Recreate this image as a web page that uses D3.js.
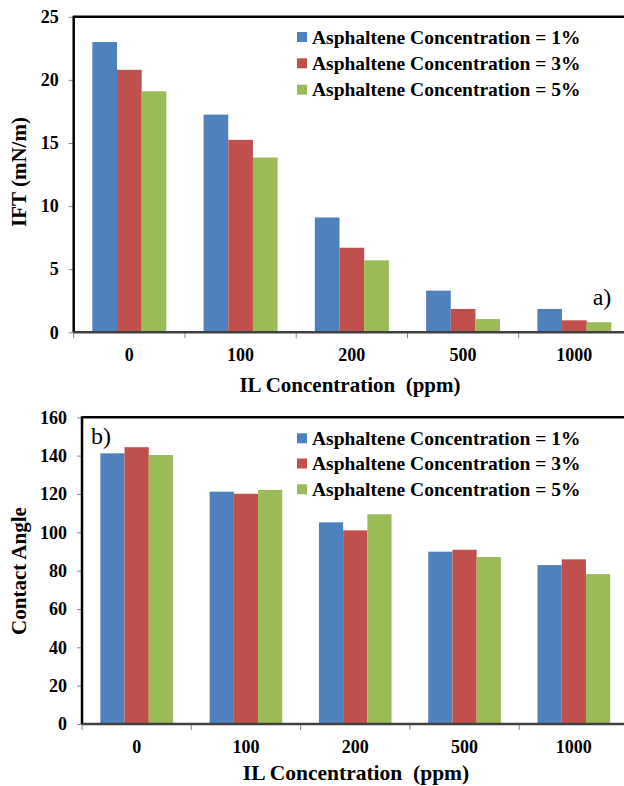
<!DOCTYPE html>
<html><head><meta charset="utf-8">
<script src="https://cdn.jsdelivr.net/npm/d3@7"></script>
<style>
html,body{margin:0;padding:0;background:#fff;}
svg{display:block;}
</style></head>
<body>
<svg id="chart" width="624" height="786"></svg>
<script>
const categories = ["0", "100", "200", "500", "1000"];
const seriesNames = ["Asphaltene Concentration = 1%", "Asphaltene Concentration = 3%", "Asphaltene Concentration = 5%"];
const seriesColors = ["#4F81BD", "#C0504D", "#9BBB59"];
const iftTicks = [0, 5, 10, 15, 20, 25];
const angleTicks = [0, 20, 40, 60, 80, 100, 120, 140, 160];
const ift1 = [23.0, 17.25, 9.1, 3.3, 1.85];
const ift3 = [20.8, 15.25, 6.7, 1.85, 0.95];
const ift5 = [19.1, 13.85, 5.7, 1.05, 0.8];
const angle1 = [141.2, 121.2, 105.2, 89.9, 82.9];
const angle3 = [144.4, 120.1, 101.0, 90.9, 85.9];
const angle5 = [140.3, 122.1, 109.4, 87.1, 78.2];

const FONT = "'Liberation Serif', 'Times New Roman', 'DejaVu Serif', serif";
const svg = d3.select("#chart");

function panel(cfg) {
  const g = svg.append("g");
  const x = d3.scaleBand().domain(categories).range([cfg.left, cfg.right]).padding(0);
  const xs = d3.scaleBand().domain(d3.range(3)).range([0, x.bandwidth()]).paddingInner(0).paddingOuter(cfg.pOuter);
  const y = d3.scaleLinear().domain([0, cfg.max]).range([cfg.bottom, cfg.top]);

  cfg.series.forEach((vals, si) => {
    g.append("g").selectAll("rect").data(vals).join("rect")
      .attr("x", (d, i) => x(categories[i]) + xs(si))
      .attr("width", xs.bandwidth())
      .attr("y", d => y(d))
      .attr("height", d => y(0) - y(d))
      .attr("fill", seriesColors[si]);
  });

  const ya = d3.axisLeft(y).tickValues(cfg.ticks).tickSize(5).tickPadding(10).tickFormat(d3.format("d"));
  const yg = g.append("g").attr("transform", `translate(${cfg.left},0)`).call(ya);
  yg.select(".domain").remove();
  yg.selectAll(".tick line").attr("stroke", "#888").attr("stroke-width", 1);
  yg.selectAll(".tick text").style("font-size", "18px").style("font-weight", "bold")
    .style("font-family", FONT).attr("fill", "#000");

  const xa = d3.axisBottom(x).tickSize(0).tickPadding(cfg.xPad);
  const xg = g.append("g").attr("transform", `translate(0,${cfg.bottom})`).call(xa);
  xg.select(".domain").remove();
  xg.selectAll(".tick text").style("font-size", "18px").style("font-weight", "bold")
    .style("font-family", FONT).attr("fill", "#000");
  g.append("g").selectAll("line").data(categories.concat(["end"])).join("line")
    .attr("x1", (d, i) => cfg.left + i * x.step())
    .attr("x2", (d, i) => cfg.left + i * x.step())
    .attr("y1", cfg.bottom).attr("y2", cfg.bottom + 6)
    .attr("stroke", "#888").attr("stroke-width", 1);

  g.append("line").attr("x1", cfg.left).attr("x2", cfg.right + 10).attr("y1", cfg.top).attr("y2", cfg.top)
    .attr("stroke", "#000").attr("stroke-width", 2.5);
  g.append("line").attr("x1", cfg.left).attr("x2", cfg.left).attr("y1", cfg.top - 1).attr("y2", cfg.bottom)
    .attr("stroke", "#000").attr("stroke-width", 2.5);
  g.append("line").attr("x1", cfg.left).attr("x2", cfg.right + 10).attr("y1", cfg.bottom).attr("y2", cfg.bottom)
    .attr("stroke", "#404040").attr("stroke-width", 2.5);

  g.append("text").attr("transform", `translate(${cfg.yTitleX},${cfg.yTitleY}) rotate(-90)`)
    .attr("text-anchor", "middle").attr("dominant-baseline", "central")
    .style("font-family", FONT).style("font-size", "21px").style("font-weight", "bold").text(cfg.yTitle);
  g.append("text").attr("x", cfg.xTitleX).attr("y", cfg.xTitleY)
    .attr("text-anchor", "middle").attr("dominant-baseline", "central")
    .style("font-family", FONT).style("font-size", cfg.xTitleSize).style("font-weight", "bold")
    .style("white-space", "pre").text("IL Concentration  (ppm)");

  const lg = g.append("g");
  seriesNames.forEach((n, i) => {
    const cy = cfg.legendY[i];
    lg.append("rect").attr("x", 297).attr("y", cy - 5).attr("width", 10).attr("height", 10).attr("fill", seriesColors[i]);
    lg.append("text").attr("x", 312).attr("y", cy).attr("dominant-baseline", "central")
      .style("font-family", FONT).style("font-size", "19.5px").style("font-weight", "bold").text(n);
  });

  g.append("text").attr("x", cfg.labelX).attr("y", cfg.labelY).attr("text-anchor", "middle")
    .attr("dominant-baseline", "central").style("font-family", FONT).style("font-size", "24px").text(cfg.label);
}

panel({
  left: 73.7, right: 630, top: 16.8, bottom: 332.3, max: 25, pOuter: 0.755,
  series: [ift1, ift3, ift5], ticks: iftTicks, xPad: 16,
  yTitle: "IFT (mN/m)", yTitleX: 19, yTitleY: 172,
  xTitleX: 350, xTitleY: 385, xTitleSize: "21px",
  legendY: [37, 63.3, 89.7],
  label: "a)", labelX: 602, labelY: 297
});

panel({
  left: 82, right: 628.5, top: 417.3, bottom: 724, max: 160, pOuter: 0.758,
  series: [angle1, angle3, angle5], ticks: angleTicks, xPad: 16,
  yTitle: "Contact Angle", yTitleX: 19, yTitleY: 571,
  xTitleX: 356, xTitleY: 773, xTitleSize: "21.5px",
  legendY: [438.3, 463.5, 489.3],
  label: "b)", labelX: 101, labelY: 436
});
</script>
</body></html>
